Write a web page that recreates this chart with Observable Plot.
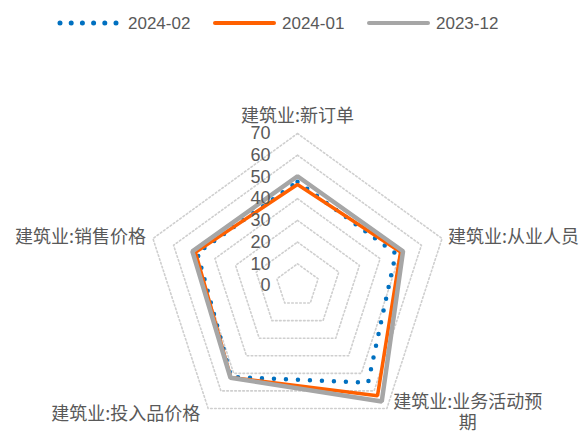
<!DOCTYPE html>
<html>
<head>
<meta charset="utf-8">
<script src="https://cdn.jsdelivr.net/npm/d3@7"></script>
<script src="https://cdn.jsdelivr.net/npm/@observablehq/plot@0.6"></script>
<style>
  html, body { margin: 0; padding: 0; background: #fff; overflow: hidden; }
  #legend { display: block; }
  #chart svg { display: block; }
</style>
</head>
<body>
<svg id="legend" width="579" height="46"></svg>
<div id="chart"></div>
<script>
const categories = ["建筑业:新订单", "建筑业:从业人员", "建筑业:业务活动预期", "建筑业:投入品价格", "建筑业:销售价格"];
const categoryLabels = ["建筑业:新订单", "建筑业:从业人员", "建筑业:业务活动预\n期", "建筑业:投入品价格", "建筑业:销售价格"];
const seriesNames = ["2024-02", "2024-01", "2023-12"];
const values202402 = [47.8, 47.6, 55.3, 52.0, 48.5];
const values202401 = [46.5, 49.9, 62.7, 52.3, 49.4];
const values202312 = [50.3, 51.1, 66.0, 52.5, 50.9];
const tickValues = [0, 10, 20, 30, 40, 50, 60, 70];
const ringValues = [10, 20, 30, 40, 50, 60, 70];

const n = categories.length;
const polar = (i, v) => {
  const a = 2 * Math.PI * i / n;
  return {x: v * Math.sin(a), y: v * Math.cos(a)};
};

const ringData = ringValues.flatMap(r => categories.map((c, i) => ({ring: r, ...polar(i, r)})));
const seriesValues = [values202402, values202401, values202312];
const seriesData = seriesNames.map((name, s) =>
  categories.map((c, i) => ({series: name, category: c, value: seriesValues[s][i], ...polar(i, seriesValues[s][i])})));
const tickData = tickValues.map(v => ({v, x: 0, y: v}));
const labelData = categoryLabels.map((label, i) => ({label, ...polar(i, 70)}));

const labelStyle = [
  {textAnchor: "middle", dx: 0, dy: -18},
  {textAnchor: "start", dx: 6, dy: -2},
  {textAnchor: "middle", dx: 81, dy: 3},
  {textAnchor: "end", dx: -8, dy: 5},
  {textAnchor: "end", dx: -7, dy: -2}
];

const colors = ["#0070c0", "#ff6000", "#a6a6a6"];
const cjkFont = "'Noto Sans CJK SC', sans-serif";

const chart = Plot.plot({
  width: 579,
  height: 386,
  margin: 0,
  x: {domain: [-70, 70], range: [145, 449], axis: null},
  y: {domain: [-70, 70], range: [391, 87], axis: null},
  marks: [
    Plot.line(ringData, {x: "x", y: "y", z: "ring", curve: "linear-closed", stroke: "#cfcfcf", strokeWidth: 1.6, strokeDasharray: "1.6 2.4"}),
    Plot.line(seriesData[0], {x: "x", y: "y", curve: "linear-closed", stroke: colors[0], strokeWidth: 4.5, strokeDasharray: "0 12", strokeLinecap: "round"}),
    Plot.line(seriesData[1], {x: "x", y: "y", curve: "linear-closed", stroke: colors[1], strokeWidth: 3.5, strokeLinejoin: "miter"}),
    Plot.line(seriesData[2], {x: "x", y: "y", curve: "linear-closed", stroke: colors[2], strokeWidth: 4.5, strokeLinejoin: "miter"}),
    Plot.text(tickData, {x: "x", y: "y", text: d => String(d.v), textAnchor: "end", dx: -27, fontSize: 18, fill: "#595959", fontFamily: "'Liberation Sans', Arial, sans-serif"}),
    ...labelData.map((d, i) => Plot.text([d], {x: "x", y: "y", text: "label", textAnchor: labelStyle[i].textAnchor, dx: labelStyle[i].dx, dy: labelStyle[i].dy, fontSize: 18, lineHeight: 1.2, fill: "#595959", fontFamily: cjkFont}))
  ]
});
document.getElementById("chart").appendChild(chart);

// Legend
const legend = d3.select("#legend");
const legendItems = [
  {name: seriesNames[0], color: colors[0], x1: 60, x2: 116, tx: 128, width: 5, dash: "0 11.2", cap: "round"},
  {name: seriesNames[1], color: colors[1], x1: 215, x2: 274, tx: 282, width: 4, dash: null, cap: "round"},
  {name: seriesNames[2], color: colors[2], x1: 369, x2: 428, tx: 436, width: 4, dash: null, cap: "round"}
];
for (const it of legendItems) {
  const l = legend.append("line").attr("x1", it.x1).attr("x2", it.x2).attr("y1", 23).attr("y2", 23)
    .attr("stroke", it.color).attr("stroke-width", it.width).attr("stroke-linecap", it.cap);
  if (it.dash) l.attr("stroke-dasharray", it.dash);
  legend.append("text").attr("x", it.tx).attr("y", 23).attr("dy", "0.35em")
    .attr("font-family", "'Liberation Sans', Arial, sans-serif").attr("font-size", 17)
    .attr("fill", "#595959").text(it.name);
}
</script>
</body>
</html>
